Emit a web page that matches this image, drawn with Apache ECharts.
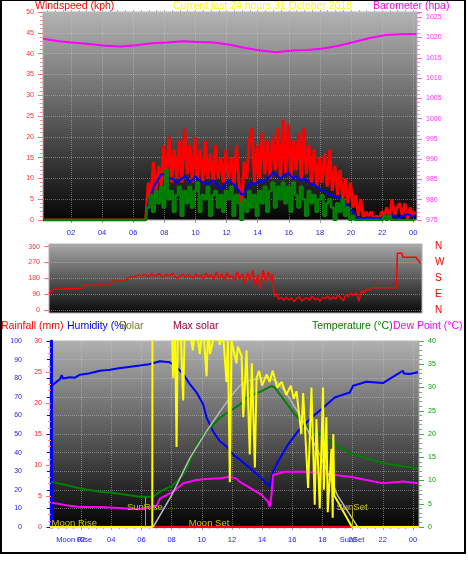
<!DOCTYPE html>
<html>
<head>
<meta charset="utf-8">
<script src="https://cdn.jsdelivr.net/npm/echarts@6/dist/echarts.min.js"></script>
<style>
html,body{margin:0;padding:0;background:#fff;}
#chart{width:468px;height:566px;}
</style>
</head>
<body>
<div id="chart"></div>
<script>
// hour labels shown under the panels (24 = midnight "00")
const hourTicks = [2,4,6,8,10,12,14,16,18,20,22,24]

// windspeed (kph), one value every 10 minutes from 06:48
const windStart = 6.8
const windStep = 1 / 6
const windGust = [
  0, 9, 6, 14, 7, 13,   8, 18, 10, 20, 9, 17,   10, 19, 9, 22, 11, 18,
  9, 20, 10, 17, 9, 19,  10, 16, 9, 18, 10, 15,  9, 17, 10, 15, 8, 18,
  9, 3, 14, 10, 19, 22,  9, 18, 10, 21, 11, 19,  10, 20, 12, 22, 10, 24,
  11, 23, 10, 19, 12, 21, 10, 22, 11, 18, 9, 17,  8, 15, 9, 16, 8, 17,
  7, 13, 6, 12, 5, 10,   4, 9, 3, 6, 1, 5,      0, 2, 1, 2, 0, 1,
  0, 2, 1, 3, 0, 5,      1, 3, 4, 1, 4, 0,      3, 1, 2
]
const windAvg = [
  0, 4, 6, 8, 9, 10,          11, 11, 10.5, 10, 10, 9.5,   9, 9.5, 10, 10.5, 10, 9,
  9.5, 10.5, 10, 9.5, 9, 9,   8.5, 9, 9.5, 9, 8, 7.5,      8, 9, 9.5, 9, 8.5, 8,
  7, 6, 6.5, 7.5, 8.5, 9,     8.5, 9, 9.5, 9, 9.5, 10,     10.5, 11.5, 11, 10.5, 10, 10.5,
  11, 11.5, 10.5, 10, 10.5, 10, 9.5, 10, 9.5, 9, 8.5, 8.5,  8, 7.5, 7, 7, 6.5, 6,
  6, 5.5, 5.5, 5, 4.5, 4,     3, 2.5, 2, 1, 0.5, 0.5,      0.5, 0.5, 0.5, 0.5, 0.5, 0.5,
  0.5, 0.5, 0.5, 1, 1, 1,     1, 0.5, 0.5, 1, 1, 1.5,      1, 1, 1
]
const windSpeed = [
  0, 3, 6, 2, 7, 4,   8, 3, 12, 5, 7, 2,   6, 8, 1, 7, 4, 8,
  3, 7, 9, 2, 6, 5,   8, 1, 6, 7, 3, 6,    2, 7, 5, 8, 1, 6,
  4, 0, 5, 2, 7, 3,   6, 1, 7, 4, 8, 2,    7, 9, 3, 8, 5, 9,
  4, 8, 2, 9, 6, 3,   8, 5, 1, 7, 4, 6,    2, 5, 6, 1, 4, 5,
  3, 0, 4, 2, 5, 1,   3, 0, 1, 0, 0, 0,    0, 0, 0, 0, 0, 0,
  0, 0, 1, 0, 1, 0,   0, 0, 0, 0, 0, 0,    0, 0, 0
]

// barometer (hPa), hourly from 00:12
const baroStart = 0.2
const barometer = [
  1019.7, 1019.1, 1018.7, 1018.4, 1018.0, 1017.8, 1018.1, 1018.6, 1018.8, 1019.1,
  1018.9, 1018.8, 1018.2, 1017.4, 1016.8, 1016.4, 1016.8, 1016.9, 1017.3, 1018.0,
  1018.9, 1019.9, 1020.6, 1020.8, 1020.9
]

// wind direction (degrees) as [hour, degrees]
const windDir = [
  [0.2,95],[0.5,118],[0.6,122],[2.3,122],[2.35,141],[4.2,142],[4.25,164],[5.05,165],[5.4,188],
  [5.5,190],[5.67,186],[5.83,195],[6.0,198],[6.17,192],[6.33,202],[6.5,196],[6.67,190],[6.83,204],
  [7.0,193],[7.17,199],[7.33,206],[7.5,188],[7.67,197],[7.83,201],[8.0,194],[8.17,208],[8.33,190],
  [8.5,179],[8.67,196],[8.83,203],[9.0,186],[9.17,199],[9.33,192],[9.5,182],[9.67,205],[9.83,188],
  [10.0,197],[10.17,178],[10.33,210],[10.5,186],[10.67,200],[10.83,172],[11.0,215],[11.17,181],
  [11.33,206],[11.5,168],[11.67,212],[11.83,184],[12.0,196],[12.17,165],[12.33,218],[12.5,175],
  [12.67,205],[12.83,150],[13.0,212],[13.17,168],[13.33,225],[13.5,140],[13.67,200],[13.83,120],
  [14.0,226],[14.17,160],[14.33,215],[14.5,170],[14.6,205],[14.7,100],[14.8,75],[14.9,95],[15.0,62],
  [15.17,70],[15.33,55],[15.5,72],[15.67,58],[15.83,68],[16.0,48],[16.17,66],[16.33,74],[16.5,52],
  [16.67,63],[16.83,70],[17.0,55],[17.17,78],[17.33,60],[17.5,68],[17.67,50],[17.83,72],[18.0,64],
  [18.17,80],[18.33,58],[18.5,75],[18.67,62],[18.83,84],[19.0,70],[19.17,52],[19.33,88],[19.5,76],
  [19.67,95],[19.83,82],[20.0,100],[20.17,50],[20.33,108],[20.5,98],[20.67,118],[20.83,112],
  [21.0,127],[22.6,127],[22.65,322],[22.95,322],[23.0,300],[23.85,300],[24.14,265]
]

// bottom panel, [hour, value]
const rainfall = [[-0.06,0],[24.4,0]]
const humidity = [
  [0.0,75.5],[0.3,77.5],[0.6,79.5],[0.72,81.7],[0.8,79.8],[1.27,80.5],[1.6,80.3],[1.93,81.9],
  [2.5,82.5],[3.25,84],[3.92,84.6],[4.5,85.3],[5.02,85.9],[5.9,86.8],[6.5,87.5],[7.0,88.6],
  [7.22,89.1],[7.88,88.6],[8.33,85.9],[8.77,82.3],[9.21,76.8],[9.66,72.3],[10.09,66],[10.32,58.8],
  [10.75,51.5],[11.2,46.1],[11.64,43.4],[12.08,38.9],[12.52,36.2],[13.07,32.5],[13.96,26.2],
  [14.5,21.7],[14.62,22.5],[14.73,29.8],[15.06,35.2],[15.72,44.3],[16.38,51.5],[17.27,58.8],
  [17.93,63.3],[18.81,69.6],[19.81,72.3],[20.03,75.9],[20.91,78.1],[22.01,77.4],[22.46,79.6],
  [23.0,82.3],[23.34,84.0],[23.4,82.5],[23.78,82.3],[24.33,83.2]
]
const temperature = [
  [0.05,9.7],[1.04,9.0],[1.93,8.3],[3.25,7.6],[3.92,7.4],[5.9,6.5],[6.78,6.5],[7.22,7.6],[8.1,9],
  [8.77,11.2],[9.21,14.1],[9.66,17.7],[10.32,20.6],[11.2,23.5],[11.86,24.9],[12.52,26.3],
  [13.07,28.1],[13.96,29.2],[14.62,30.3],[14.84,30.0],[15.5,27.1],[16.17,24.2],[17.05,21.3],
  [17.93,19.8],[18.81,17.7],[19.81,15.9],[22.01,13.7],[24.33,12.6]
]
const dewPoint = [
  [0.05,5.2],[0.5,5.0],[1.0,4.7],[1.93,4.3],[3.25,4.3],[4.5,4.1],[5.9,3.8],[6.5,4.2],[7.0,4.5],
  [7.22,6.1],[8.1,7.6],[8.77,9.4],[9.66,10.1],[10.32,10.3],[11.2,10.5],[11.86,10.8],[12.3,10.4],
  [12.52,9.7],[13.07,8.7],[13.96,6.9],[14.4,5.4],[14.5,4.3],[14.62,6.8],[14.73,11.2],[15.5,11.9],
  [16.6,11.9],[17.93,11.6],[18.81,11.2],[19.81,10.8],[22.01,9.4],[23.34,9.8],[24.33,9.4]
]
const maxSolar = [
  [6.78,0],[8.0,17],[9.21,37],[10.32,51.5],[11.2,62],[12.0,71],[12.52,76],[13.2,79],[14.4,80.5],
  [15.0,78],[15.6,72],[16.6,58.8],[17.93,37.1],[19.0,17],[20.34,0]
]
const solar = [
  [-0.06,0],[6.72,0],[6.73,110],[8.0,110],[8.11,80],[8.22,110],[8.33,43],[8.42,110],[8.62,100],
  [8.77,68],[8.88,110],[9.21,105],[9.41,95],[9.6,110],[9.87,93],[10.07,110],[10.32,81],[10.44,110],
  [10.54,93],[10.74,100],[10.93,110],[11.2,98],[11.4,105],[11.64,78],[11.73,100],[11.86,24],
  [11.97,100],[12.3,88],[12.39,97],[12.64,92],[12.75,59],[12.97,95],[13.18,39],[13.32,88],[13.52,32],
  [13.63,80],[13.8,84],[14.0,76],[14.3,82],[14.5,78],[14.7,84],[15.0,75],[15.3,78],[15.6,71],
  [15.9,76],[16.1,69],[16.28,73],[16.6,50],[16.72,72],[17.05,21],[17.27,75],[17.49,12],[17.6,58],
  [17.82,10],[18.04,75],[18.09,20],[18.26,59],[18.35,8],[18.6,42],[18.68,5],[18.72,50],[18.78,17],
  [19.96,0],[24.4,0]
]

// sun and moon events (hour)
const sunRise = 6.23
const sunSet = 19.96
const moonRise = 1.55
const moonSet = 10.48

const FONT = 'Liberation Sans'
const bg = (top, bottom) => ({type:'linear', x:0, y:0, x2:0, y2:1,
  colorStops:[{offset:0, color:top}, {offset:1, color:bottom}]})
const hh = v => String(Math.round(v) % 24).padStart(2, '0')
const windTimes = windGust.map((v, i) => windStart + i * windStep)
const windPairs = vals => [[baroStart, 0]].concat(vals.map((v, i) => [windTimes[i], v]))
const minorHours = []
for (let h = 0; h <= 24.5; h += 0.5) minorHours.push(h)
const compass = {0:'N', 90:'E', 180:'S', 270:'W', 360:'N'}
const grayGrid = {show:true, lineStyle:{color:'rgba(205,205,205,0.45)', type:'dotted', width:1}}
const plain = v => String(v)

const titleStyle = color => ({color:color, fontSize:10.5, fontWeight:'normal', fontFamily:FONT})

const chart = echarts.init(document.getElementById('chart'))
chart.setOption({
  animation:false,
  backgroundColor:'#fff',
  title:[
    {text:'Windspeed (kph)', left:35, top:1, padding:0, textStyle:titleStyle('#ff0000')},
    {text:'Current last 24 hours 31 October 2018', left:173, top:1, padding:0, textStyle:titleStyle('#ffff00')},
    {text:'Barometer (hpa)', left:373, top:1, padding:0, textStyle:titleStyle('#ff00ff')},
    {text:'Rainfall (mm)', left:1, top:321, padding:0, textStyle:titleStyle('#ff0000')},
    {text:'Humidity (%)', left:67, top:321, padding:0, textStyle:titleStyle('#0000ff')},
    {text:'Solar', left:119, top:321, padding:0, textStyle:titleStyle('#808000')},
    {text:'Max solar', left:173, top:321, padding:0, textStyle:titleStyle('#990040')},
    {text:'Temperature (°C)', left:312, top:321, padding:0, textStyle:titleStyle('#008000')},
    {text:'Dew Point (°C)', left:393, top:321, padding:0, textStyle:titleStyle('#ff00ff')}
  ],
  graphic:[{type:'rect', silent:true, z:100, shape:{x:1, y:0, width:464, height:553},
    style:{fill:null, stroke:'#000', lineWidth:2}}],
  grid:[
    {left:43, top:12, width:374, height:208, show:true, backgroundColor:bg('#b4b4b4', '#050505'),
      borderWidth:1, borderColor:'#b0b0b0', containLabel:false, outerBoundsMode:'none'},
    {left:49, top:244, width:373, height:69, show:true, backgroundColor:bg('#a8a8a8', '#080808'),
      borderWidth:1, borderColor:'#b0b0b0', containLabel:false, outerBoundsMode:'none'},
    {left:50, top:341, width:369, height:186, show:true, backgroundColor:bg('#b0b0b0', '#030303'),
      borderWidth:1, borderColor:'#b0b0b0', containLabel:false, outerBoundsMode:'none'}
  ],
  xAxis:[
    {gridIndex:0, type:'value', min:0.2, max:24.24, axisLine:{show:false},
      axisTick:{show:true, customValues:hourTicks, length:3, lineStyle:{color:'#a0a0a0'}},
      axisLabel:{customValues:hourTicks, formatter:hh, color:'#2020ff', fontSize:7.5, margin:9, fontFamily:FONT},
      splitLine:grayGrid},
    {gridIndex:0, type:'value', min:0.2, max:24.24, axisLine:{show:false}, axisLabel:{show:false},
      axisTick:{show:true, customValues:minorHours, length:2, lineStyle:{color:'#b0b0b0'}}, splitLine:{show:false}},
    {gridIndex:1, type:'value', min:0.2, max:24.24, show:false},
    {gridIndex:2, type:'value', min:-0.06, max:24.4, axisLine:{show:false},
      axisTick:{show:true, customValues:hourTicks, length:3, lineStyle:{color:'#a0a0a0'}},
      axisLabel:{customValues:hourTicks, formatter:hh, color:'#2020ff', fontSize:7.5, margin:9, fontFamily:FONT},
      splitLine:grayGrid},
    {gridIndex:2, type:'value', min:-0.06, max:24.4, position:'bottom', offset:0, axisLine:{show:false},
      axisTick:{show:true, customValues:minorHours, length:2, lineStyle:{color:'#b0b0b0'}},
      axisLabel:{customValues:[moonRise, sunSet], formatter:v => (v === moonRise ? 'Moon Rise' : 'SunSet'),
        color:'#2020ff', fontSize:7.5, margin:9, fontFamily:FONT},
      splitLine:{show:false}}
  ],
  yAxis:[
    {gridIndex:0, type:'value', min:0, max:50, interval:5, position:'left', axisLine:{show:false},
      axisTick:{show:true, length:5, lineStyle:{color:'#ff7070'}},
      minorTick:{show:true, splitNumber:5, length:3, lineStyle:{color:'#ff9090'}},
      axisLabel:{color:'#ff3030', fontSize:7, margin:9, fontFamily:FONT}, splitLine:grayGrid},
    {gridIndex:0, type:'value', min:975, max:1026.3, interval:5, position:'right', axisLine:{show:false},
      axisTick:{show:true, length:5, lineStyle:{color:'#ff60ff'}},
      minorTick:{show:true, splitNumber:5, length:3, lineStyle:{color:'#ff80ff'}},
      axisLabel:{color:'#ff30ff', fontSize:7, margin:9, showMaxLabel:false, formatter:plain, fontFamily:FONT},
      splitLine:{show:false}},
    {gridIndex:1, type:'value', min:-17, max:375, position:'left', axisLine:{show:false},
      axisTick:{show:true, customValues:[0,90,180,270,360], length:5, lineStyle:{color:'#ff7070'}},
      axisLabel:{customValues:[0,90,180,270,360], color:'#ff3030', fontSize:7, margin:9, fontFamily:FONT},
      splitLine:grayGrid},
    {gridIndex:1, type:'value', min:-17, max:375, position:'right', axisLine:{show:false}, axisTick:{show:false},
      axisLabel:{customValues:[0,90,180,270,360], formatter:v => compass[v], color:'#ff0000', fontSize:10,
        margin:13, fontFamily:FONT},
      splitLine:{show:false}},
    {gridIndex:2, type:'value', min:0, max:30, interval:5, position:'left', offset:0, axisLine:{show:false},
      axisTick:{show:true, length:5, lineStyle:{color:'#ff7070'}},
      minorTick:{show:true, splitNumber:5, length:3, lineStyle:{color:'#ff9090'}},
      axisLabel:{color:'#ff2020', fontSize:7, margin:8, fontFamily:FONT}, splitLine:{show:false}},
    {gridIndex:2, type:'value', min:0, max:100, interval:10, position:'left', offset:20,
      axisLine:{show:true, lineStyle:{color:'#0000ff', width:3}},
      axisTick:{show:true, length:4, lineStyle:{color:'#0000ff'}},
      axisLabel:{color:'#2020ff', fontSize:7, margin:8, fontFamily:FONT}, splitLine:grayGrid},
    {gridIndex:2, type:'value', min:0, max:40, interval:5, position:'right', axisLine:{show:false},
      axisTick:{show:true, length:5, lineStyle:{color:'#40b040'}},
      minorTick:{show:true, splitNumber:5, length:3, lineStyle:{color:'#60c060'}},
      axisLabel:{color:'#00a000', fontSize:7, margin:9, fontFamily:FONT}, splitLine:{show:false}},
    {gridIndex:2, type:'value', min:0, max:100, show:false}
  ],
  series:[
    {name:'Gust', type:'line', xAxisIndex:0, yAxisIndex:0, data:windPairs(windGust),
      showSymbol:false, lineStyle:{color:'#ff0000', width:3}},
    {name:'Average', type:'line', xAxisIndex:0, yAxisIndex:0, data:windPairs(windAvg),
      showSymbol:false, lineStyle:{color:'#0000ff', width:2}},
    {name:'Speed', type:'line', xAxisIndex:0, yAxisIndex:0, data:windPairs(windSpeed), step:'middle',
      showSymbol:false, lineStyle:{color:'#008000', width:2.5}},
    {name:'Barometer', type:'line', xAxisIndex:0, yAxisIndex:1,
      data:barometer.map((v, i) => [baroStart + i, v]),
      showSymbol:false, lineStyle:{color:'#ff00ff', width:2}},
    {name:'Direction', type:'line', xAxisIndex:2, yAxisIndex:2, data:windDir,
      showSymbol:false, lineStyle:{color:'#ff0000', width:1.5}},
    {name:'Rainfall', type:'line', xAxisIndex:3, yAxisIndex:4, data:rainfall,
      showSymbol:false, lineStyle:{color:'#ff0000', width:2.5}},
    {name:'Humidity', type:'line', xAxisIndex:3, yAxisIndex:5, data:humidity,
      showSymbol:false, lineStyle:{color:'#0000ff', width:2}},
    {name:'Temperature', type:'line', xAxisIndex:3, yAxisIndex:6, data:temperature,
      showSymbol:false, lineStyle:{color:'#008000', width:2},
      markLine:{silent:true, symbol:'none', label:{show:false}, lineStyle:{color:'#b4b400', width:1, type:'solid'},
        data:[[{coord:[sunRise, 0]}, {coord:[sunRise, 6.4]}], [{coord:[sunSet, 0]}, {coord:[sunSet, 3.6]}]]},
      markPoint:{silent:true, symbol:'circle', symbolSize:1, itemStyle:{color:'rgba(0,0,0,0)'},
        label:{show:true, position:'inside', formatter:'{b}', color:'#c8c800', fontSize:9.5, fontFamily:FONT},
        data:[{name:'SunRise', coord:[sunRise, 4.3]}, {name:'SunSet', coord:[sunSet, 4.3]},
          {name:'Moon Rise', coord:[moonRise, 0.8]}, {name:'Moon Set', coord:[moonSet, 0.8]}]}},
    {name:'Dew Point', type:'line', xAxisIndex:3, yAxisIndex:6, data:dewPoint,
      showSymbol:false, lineStyle:{color:'#ff00ff', width:2}},
    {name:'Max solar', type:'line', xAxisIndex:3, yAxisIndex:7, data:maxSolar,
      showSymbol:false, lineStyle:{color:'#b8b8b8', width:1.5}},
    {name:'Solar', type:'line', xAxisIndex:3, yAxisIndex:7, data:solar,
      showSymbol:false, lineStyle:{color:'#ffff00', width:2}}
  ]
})
</script>
</body>
</html>
